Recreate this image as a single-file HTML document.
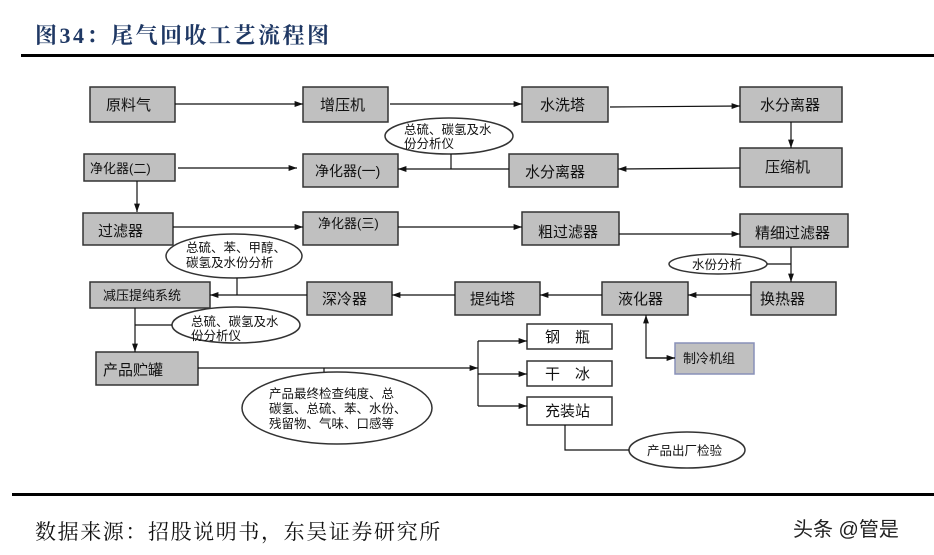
<!DOCTYPE html>
<html><head><meta charset="utf-8"><style>
html,body{margin:0;padding:0;background:#fff;width:934px;height:555px;overflow:hidden}
svg text{font-family:"Liberation Sans","Noto Sans CJK SC",sans-serif;fill:#111}
</style></head><body>
<svg width="934" height="555" viewBox="0 0 934 555" xmlns="http://www.w3.org/2000/svg">
<defs><marker id="a" viewBox="0 0 10 10" refX="10" refY="5" markerWidth="7" markerHeight="7" orient="auto"><path d="M0,1.5L10,5L0,8.5z" fill="#111"/></marker></defs>
<text x="35" y="43" style="font-family:'Liberation Serif','Noto Serif CJK SC',serif;font-weight:bold;font-size:22px;letter-spacing:2.5px;fill:#1f3864">图34：尾气回收工艺流程图</text>
<rect x="21" y="54" width="913" height="3" fill="#000"/>
<rect x="12" y="493" width="922" height="3" fill="#000"/>
<text x="35" y="539" style="font-family:'Liberation Serif','Noto Serif CJK SC',serif;font-size:21px;letter-spacing:1.6px">数据来源：招股说明书，东吴证券研究所</text>
<text x="793" y="536" style="font-size:20px;fill:#222">头条 @管是</text>

<g fill="#c0c0c0" stroke="#333" stroke-width="1.5">
<rect x="90" y="87" width="85" height="35"/>
<rect x="303" y="87" width="85" height="35"/>
<rect x="522" y="87" width="86" height="35"/>
<rect x="740" y="87" width="102" height="35"/>
<rect x="84" y="154" width="91" height="27"/>
<rect x="303" y="154" width="95" height="33"/>
<rect x="509" y="154" width="109" height="33"/>
<rect x="740" y="148" width="102" height="39"/>
<rect x="83" y="213" width="90" height="32"/>
<rect x="303" y="212" width="95" height="33"/>
<rect x="522" y="212" width="97" height="33"/>
<rect x="740" y="214" width="108" height="33"/>
<rect x="90" y="282" width="120" height="26"/>
<rect x="307" y="282" width="85" height="33"/>
<rect x="455" y="282" width="85" height="33"/>
<rect x="602" y="282" width="86" height="33"/>
<rect x="751" y="282" width="85" height="33"/>
<rect x="96" y="352" width="102" height="33"/>
<rect x="675" y="343" width="79" height="31" stroke="#8890b8"/>
</g>
<g fill="#fff" stroke="#333" stroke-width="1.5">
<rect x="527" y="324" width="85" height="25"/>
<rect x="527" y="361" width="85" height="25"/>
<rect x="527" y="397" width="85" height="28"/>
<ellipse cx="449" cy="136" rx="64" ry="18"/>
<ellipse cx="234" cy="256" rx="68" ry="22"/>
<ellipse cx="236" cy="325" rx="64" ry="18"/>
<ellipse cx="718" cy="264" rx="49" ry="10"/>
<ellipse cx="337" cy="408" rx="95" ry="36"/>
<ellipse cx="687" cy="450" rx="58" ry="18"/>
</g>
<g stroke="#111" stroke-width="1.2" fill="none">
<line x1="175" y1="104" x2="303" y2="104" marker-end="url(#a)"/>
<line x1="390" y1="104" x2="522" y2="104" marker-end="url(#a)"/>
<line x1="610" y1="107" x2="740" y2="106" marker-end="url(#a)"/>
<line x1="791" y1="122" x2="791" y2="148" marker-end="url(#a)"/>
<line x1="740" y1="168" x2="618" y2="169" marker-end="url(#a)"/>
<line x1="509" y1="169" x2="398" y2="169" marker-end="url(#a)"/>
<line x1="451" y1="154" x2="451" y2="169"/>
<line x1="178" y1="168" x2="297" y2="168" marker-end="url(#a)"/>
<line x1="137" y1="181" x2="137" y2="212" marker-end="url(#a)"/>
<line x1="173" y1="227" x2="303" y2="227" marker-end="url(#a)"/>
<line x1="398" y1="227" x2="522" y2="227" marker-end="url(#a)"/>
<line x1="619" y1="234" x2="740" y2="234" marker-end="url(#a)"/>
<line x1="791" y1="247" x2="791" y2="282" marker-end="url(#a)"/>
<line x1="767" y1="264" x2="791" y2="264"/>
<line x1="751" y1="295" x2="688" y2="295" marker-end="url(#a)"/>
<line x1="602" y1="295" x2="540" y2="295" marker-end="url(#a)"/>
<line x1="455" y1="295" x2="392" y2="295" marker-end="url(#a)"/>
<line x1="307" y1="295" x2="210" y2="295" marker-end="url(#a)"/>
<line x1="237" y1="278" x2="237" y2="295"/>
<line x1="135" y1="308" x2="135" y2="352" marker-end="url(#a)"/>
<line x1="135" y1="325" x2="172" y2="325"/>
<polyline points="675,358 646,358 646,315" marker-end="url(#a)"/>
<line x1="646" y1="358" x2="675" y2="358" marker-end="url(#a)"/>
<line x1="198" y1="368" x2="478" y2="368" marker-end="url(#a)"/>
<line x1="324" y1="368" x2="324" y2="372"/>
<line x1="478" y1="341" x2="478" y2="406"/>
<line x1="478" y1="341" x2="527" y2="341" marker-end="url(#a)"/>
<line x1="478" y1="374" x2="527" y2="374" marker-end="url(#a)"/>
<line x1="478" y1="406" x2="527" y2="406" marker-end="url(#a)"/>
<polyline points="565,425 565,450 629,450"/>
</g>
<g style="font-size:15px">
<text x="106" y="110">原料气</text>
<text x="320" y="110">增压机</text>
<text x="540" y="110">水洗塔</text>
<text x="760" y="110">水分离器</text>
<text x="90" y="173" style="font-size:13px">净化器(二)</text>
<text x="315" y="176" style="font-size:14px">净化器(一)</text>
<text x="525" y="177">水分离器</text>
<text x="765" y="172">压缩机</text>
<text x="98" y="236">过滤器</text>
<text x="318" y="228" style="font-size:13px">净化器(三)</text>
<text x="538" y="237">粗过滤器</text>
<text x="755" y="238">精细过滤器</text>
<text x="103" y="300" style="font-size:13px">减压提纯系统</text>
<text x="322" y="304">深冷器</text>
<text x="470" y="304">提纯塔</text>
<text x="618" y="304">液化器</text>
<text x="760" y="304">换热器</text>
<text x="103" y="375">产品贮罐</text>
<text x="683" y="363" style="font-size:13px">制冷机组</text>
<text x="545" y="342">钢　瓶</text>
<text x="545" y="379">干　冰</text>
<text x="545" y="416">充装站</text>
</g>
<g style="font-size:12.5px">
<text x="404" y="134">总硫、碳氢及水</text>
<text x="404" y="148">份分析仪</text>
<text x="186" y="252">总硫、苯、甲醇、</text>
<text x="186" y="267">碳氢及水份分析</text>
<text x="191" y="326">总硫、碳氢及水</text>
<text x="191" y="340">份分析仪</text>
<text x="692" y="269">水份分析</text>
<text x="269" y="398">产品最终检查纯度、总</text>
<text x="269" y="413">碳氢、总硫、苯、水份、</text>
<text x="269" y="428">残留物、气味、口感等</text>
<text x="647" y="455">产品出厂检验</text>
</g>
</svg>
</body></html>
